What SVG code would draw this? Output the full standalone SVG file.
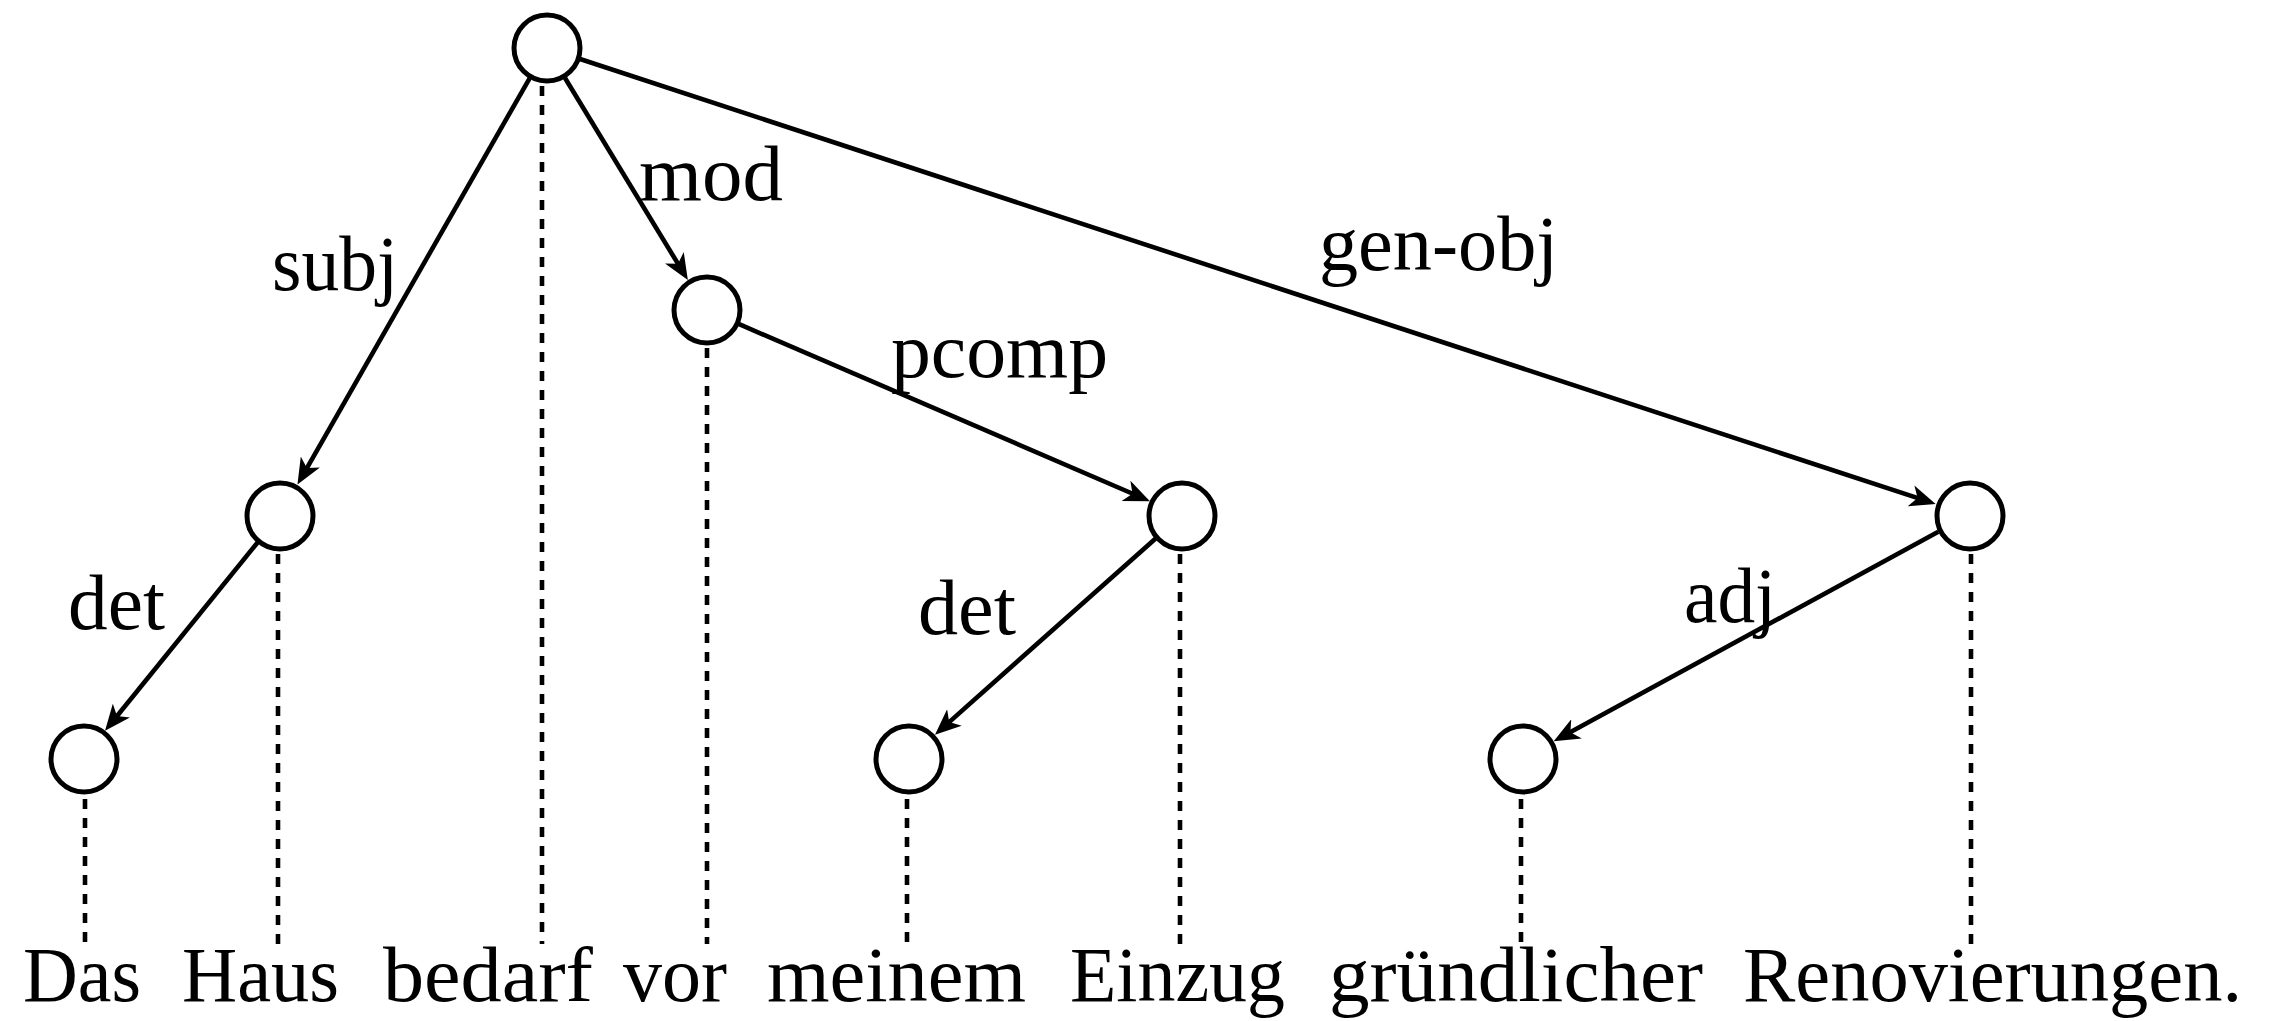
<svg xmlns="http://www.w3.org/2000/svg" width="2274" height="1021" viewBox="0 0 2274 1021">
<style>
.node{fill:#fff;stroke:#000;stroke-width:5}
.edge{stroke:#000;stroke-width:4.6;fill:none}
.proj{stroke:#000;stroke-width:4.6;stroke-dasharray:10 9;fill:none}
.lbl{font-family:"Liberation Serif","Times New Roman",serif;font-size:78px;fill:#000}
.word{font-family:"Liberation Serif","Times New Roman",serif;font-size:78px;fill:#000}
</style>
<defs>
<marker id="arr" markerUnits="userSpaceOnUse" markerWidth="26" markerHeight="22" viewBox="0 0 26 22" refX="13" refY="11" orient="auto">
<path d="M26,11 L0,0 L7,11 L0,22 Z" fill="#000"/>
</marker>
</defs>
<rect width="2274" height="1021" fill="#fff"/>
<g id="projections">
<line class="proj" x1="542" y1="86" x2="542" y2="944"/>
<line class="proj" x1="707" y1="348" x2="707" y2="944"/>
<line class="proj" x1="278" y1="554" x2="278" y2="944"/>
<line class="proj" x1="1180" y1="554" x2="1180" y2="944"/>
<line class="proj" x1="1971" y1="554" x2="1971" y2="944"/>
<line class="proj" x1="85" y1="799" x2="85" y2="944"/>
<line class="proj" x1="907" y1="799" x2="907" y2="944"/>
<line class="proj" x1="1521" y1="799" x2="1521" y2="944"/>
</g>
<g id="connectors">
<line class="edge" x1="529.6" y1="78.4" x2="303.9" y2="473.3" marker-end="url(#arr)"/>
<line class="edge" x1="565" y1="78" x2="681.1" y2="268.9" marker-end="url(#arr)"/>
<line class="edge" x1="580" y1="59" x2="1923.3" y2="499.9" marker-end="url(#arr)"/>
<line class="edge" x1="738" y1="323.7" x2="1138" y2="496" marker-end="url(#arr)"/>
<line class="edge" x1="258" y1="542" x2="113.2" y2="720.7" marker-end="url(#arr)"/>
<line class="edge" x1="1155.9" y1="538.3" x2="944.7" y2="726.1" marker-end="url(#arr)"/>
<line class="edge" x1="1938.3" y1="531.7" x2="1565.1" y2="735.1" marker-end="url(#arr)"/>
<text class="lbl" x="272" y="290" textLength="126" lengthAdjust="spacingAndGlyphs">subj</text>
<text class="lbl" x="639" y="200" textLength="144" lengthAdjust="spacingAndGlyphs">mod</text>
<text class="lbl" x="1319" y="270" textLength="239" lengthAdjust="spacingAndGlyphs">gen-obj</text>
<text class="lbl" x="891" y="377" textLength="217" lengthAdjust="spacingAndGlyphs">pcomp</text>
<text class="lbl" x="68" y="629" textLength="97" lengthAdjust="spacingAndGlyphs">det</text>
<text class="lbl" x="918" y="634" textLength="98" lengthAdjust="spacingAndGlyphs">det</text>
<text class="lbl" x="1684" y="622" textLength="92" lengthAdjust="spacingAndGlyphs">adj</text>
</g>
<g id="n-root"><circle class="node" cx="547" cy="48" r="33"/></g>
<g id="n-mod"><circle class="node" cx="707" cy="310" r="33"/></g>
<g id="n-subj"><circle class="node" cx="280" cy="516" r="33"/></g>
<g id="n-pcomp"><circle class="node" cx="1182" cy="516" r="33"/></g>
<g id="n-genobj"><circle class="node" cx="1970" cy="516" r="33"/></g>
<g id="n-det1"><circle class="node" cx="84" cy="759" r="33"/></g>
<g id="n-det2"><circle class="node" cx="909" cy="759" r="33"/></g>
<g id="n-adj"><circle class="node" cx="1523" cy="759" r="33"/></g>
<g id="words">
<text class="word" x="23" y="1001" textLength="118" lengthAdjust="spacingAndGlyphs">Das</text>
<text class="word" x="182" y="1001" textLength="157" lengthAdjust="spacingAndGlyphs">Haus</text>
<text class="word" x="383" y="1001" textLength="210" lengthAdjust="spacingAndGlyphs">bedarf</text>
<text class="word" x="623" y="1001" textLength="104" lengthAdjust="spacingAndGlyphs">vor</text>
<text class="word" x="767" y="1001" textLength="259" lengthAdjust="spacingAndGlyphs">meinem</text>
<text class="word" x="1070" y="1001" textLength="215" lengthAdjust="spacingAndGlyphs">Einzug</text>
<text class="word" x="1329" y="1001" textLength="374" lengthAdjust="spacingAndGlyphs">gründlicher</text>
<text class="word" x="1743" y="1001" textLength="499" lengthAdjust="spacingAndGlyphs">Renovierungen.</text>
</g>
</svg>
